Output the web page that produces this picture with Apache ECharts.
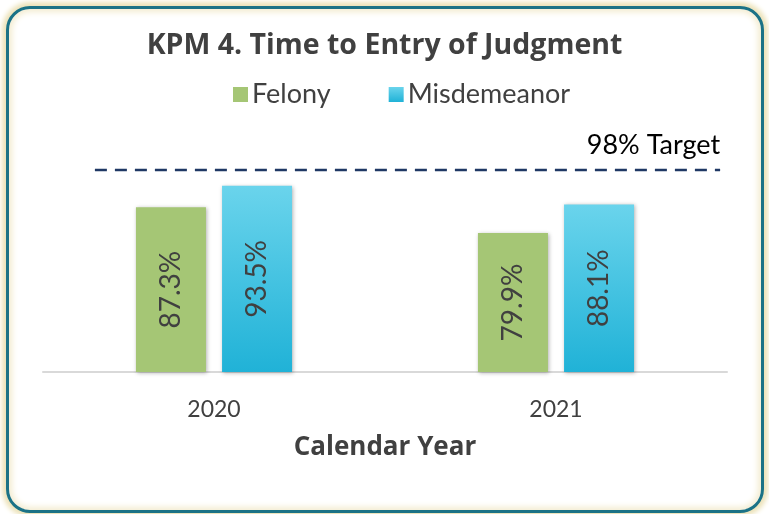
<!DOCTYPE html>
<html>
<head>
<meta charset="utf-8">
<script src="https://cdn.jsdelivr.net/npm/echarts@6/dist/echarts.min.js"></script>
<style>
    html, body { margin: 0; padding: 0; background: #ffffff; }
    #card {
        position: absolute; left: 6px; top: 6px; width: 752px; height: 501px;
        border: 3px solid #1b7286; border-radius: 24px;
        box-shadow: 0 0 5px 4px #ece2b8, inset 0 0 6px 3px #f3ecd0;
        background: #ffffff;
    }
    #main { position: absolute; left: 0; top: 0; width: 769px; height: 514px; }
</style>
</head>
<body>
<div id="card"></div>
<div id="main"></div>
<script>
    // 数据
    var years = ['2020', '2021'];
    var felony = [87.3, 79.9];
    var misdemeanor = [93.5, 88.1];
    var target = 98;

    var myChart = echarts.init(document.getElementById('main'));
    var font = 'Lato, "Open Sans", sans-serif';
    var boldFont = '"Open Sans", Lato, sans-serif';

    var option = {
        backgroundColor: 'transparent',
        textStyle: { fontFamily: font },
        title: {
            text: 'KPM 4. Time to Entry of Judgment',
            left: 'center',
            top: 26,
            textStyle: { fontFamily: boldFont, fontSize: 28.5, fontWeight: 'bold', color: '#404040' }
        },
        legend: {
            data: ['Felony', 'Misdemeanor'],
            left: 228,
            top: 76,
            itemWidth: 15,
            itemHeight: 15,
            itemGap: 58,
            icon: 'rect',
            textStyle: { fontFamily: font, fontSize: 27, color: '#404040', padding: [0, 0, 0, -1] }
        },
        grid: { left: 43, right: 42, top: 163, bottom: 142 },
        xAxis: [
            {
                type: 'category',
                data: years,
                axisLine: { lineStyle: { color: '#d9d9d9', width: 2 } },
                axisTick: { show: false },
                axisLabel: { fontFamily: font, fontSize: 23, color: '#404040', margin: 26 },
                name: 'Calendar Year',
                nameLocation: 'middle',
                nameGap: 63,
                nameTextStyle: { fontFamily: boldFont, fontSize: 26, fontWeight: 'bold', color: '#404040' }
            },
            {
                // 目标线用的隐藏轴
                type: 'value',
                show: false,
                min: -0.083,
                max: 1.011
            }
        ],
        yAxis: {
            type: 'value',
            min: 40,
            max: 100,
            show: false,
            splitLine: { show: false }
        },
        series: [
            {
                name: 'Felony',
                type: 'bar',
                data: felony,
                barWidth: 70,
                barGap: '23%',
                itemStyle: {
                    color: '#a5c675',
                    shadowBlur: 4,
                    shadowColor: 'rgba(0,0,0,0.3)',
                    shadowOffsetX: 1,
                    shadowOffsetY: 1
                },
                label: {
                    show: true,
                    position: 'inside',
                    rotate: 90,
                    formatter: function (p) { return p.value.toFixed(1) + '%'; },
                    fontFamily: font,
                    fontSize: 28,
                    color: '#404040'
                }
            },
            {
                name: 'Misdemeanor',
                type: 'bar',
                data: misdemeanor,
                barWidth: 70,
                itemStyle: {
                    color: new echarts.graphic.LinearGradient(0, 0, 0, 1, [
                        { offset: 0, color: '#6ad4ec' },
                        { offset: 1, color: '#20b2d7' }
                    ]),
                    shadowBlur: 4,
                    shadowColor: 'rgba(0,0,0,0.3)',
                    shadowOffsetX: 1,
                    shadowOffsetY: 1
                },
                label: {
                    show: true,
                    position: 'inside',
                    rotate: 90,
                    formatter: function (p) { return p.value.toFixed(1) + '%'; },
                    fontFamily: font,
                    fontSize: 28,
                    color: '#404040'
                }
            },
            {
                name: 'Target',
                type: 'line',
                xAxisIndex: 1,
                symbol: 'circle',
                symbolSize: 0.1,
                showSymbol: true,
                silent: true,
                lineStyle: { color: '#1f3864', width: 2.5, type: [12, 8] },
                data: [
                    [0, target],
                    {
                        value: [1, target],
                        label: {
                            show: true,
                            position: 'top',
                            align: 'right',
                            distance: 11,
                            formatter: target + '% Target',
                            fontFamily: font,
                            fontSize: 27,
                            color: '#000000'
                        }
                    }
                ]
            }
        ]
    };

    myChart.setOption(option);
</script>
</body>
</html>
